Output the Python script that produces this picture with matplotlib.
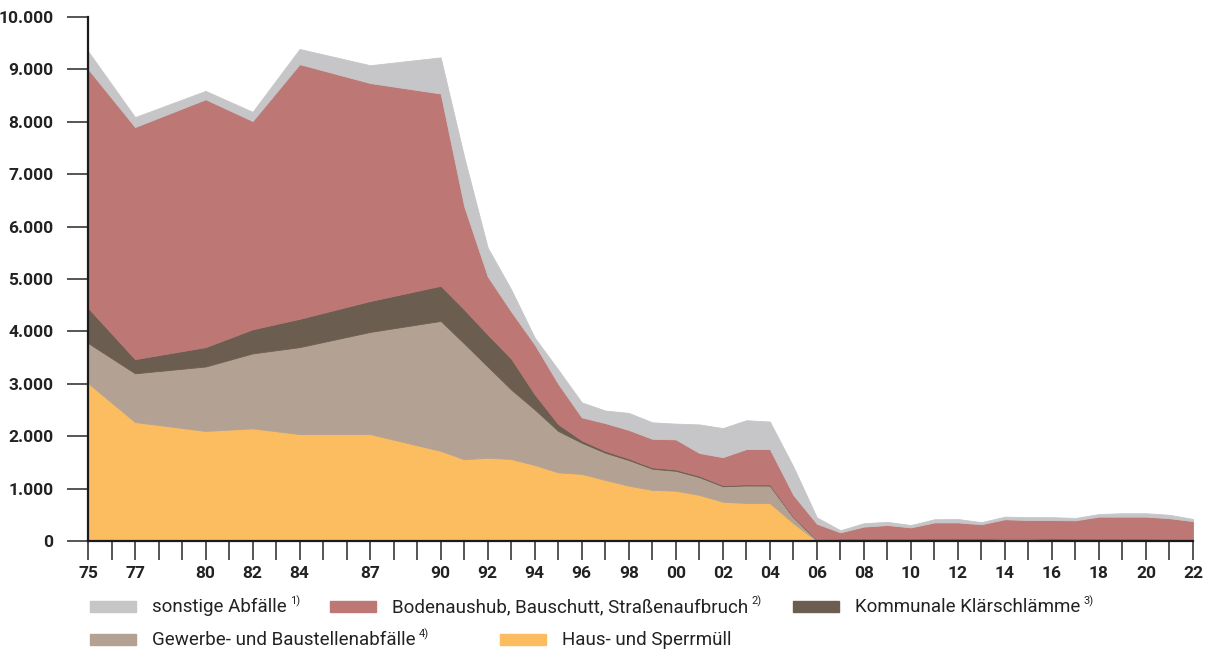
import numpy as np
import matplotlib.pyplot as plt

# Abfallaufkommen, in 1.000 t
years = [1975, 1977, 1980, 1982, 1984, 1987] + list(range(1990, 2023))

haus = [3015, 2270, 2100, 2150, 2040, 2040,
        1720, 1560, 1590, 1565, 1450, 1310, 1280, 1165, 1055, 975,
        960, 880, 750, 725, 725, 340, 0, 0, 0, 0,
        0, 0, 0, 0, 0, 0, 0, 0, 0, 0,
        0, 0, 0]
gewerbe = [765, 930, 1230, 1430, 1660, 1950,
           2480, 2210, 1740, 1325, 1060, 790, 595, 520, 490, 405,
           380, 340, 295, 335, 333, 110, 20, 40, 40, 40,
           40, 45, 45, 45, 50, 50, 45, 40, 40, 40,
           40, 35, 30]
klaerschlamm = [670, 270, 370, 460, 540, 590,
                670, 650, 610, 590, 290, 130, 45, 35, 30, 25,
                25, 25, 20, 20, 20, 10, 5, 5, 5, 5,
                5, 5, 5, 5, 5, 5, 5, 5, 5, 5,
                5, 5, 5]
boden = [4560, 4430, 4730, 3975, 4860, 4160,
         3670, 1970, 1110, 900, 950, 770, 440, 530, 545, 545,
         575, 435, 535, 675, 677, 420, 305, 120, 230, 260,
         215, 305, 305, 270, 360, 345, 350, 350, 420, 420,
         420, 395, 345]
sonstige = [340, 190, 160, 175, 290, 340,
            690, 940, 550, 420, 130, 270, 285, 240, 325, 315,
            300, 545, 555, 550, 525, 540, 120, 40, 65, 60,
            45, 60, 65, 40, 50, 55, 55, 45, 50, 65,
            65, 65, 40]

labels = ['Haus- und Sperrmüll', 'Gewerbe- und Baustellenabfälle',
          'Kommunale Klärschlämme', 'Bodenaushub, Bauschutt, Straßenaufbruch',
          'sonstige Abfälle']
colors = ['#fbbd5f', '#b3a293', '#6b5e50', '#bd7875', '#c6c6c8']

xtick_years = [1975, 1977, 1980, 1982, 1984, 1987, 1990] + list(range(1992, 2023, 2))

FONT = ['Liberation Sans Narrow', 'Roboto', 'DejaVu Sans']
plt.rcParams['font.family'] = FONT

fig = plt.figure(figsize=(12.11, 6.52), dpi=100)
ax = fig.add_axes([88 / 1211, 1 - 541 / 652, (1193 - 88) / 1211, (541 - 17) / 652])

series = [haus, gewerbe, klaerschlamm, boden, sonstige]
polys = ax.stackplot(years, *series, colors=colors, linewidth=0.6)
for p, c in zip(polys, colors):
    p.set_edgecolor(c)

ax.set_xlim(1975, 2022)
ax.set_ylim(0, 10000)
ax.spines[['top', 'right']].set_visible(False)
for s in ['left', 'bottom']:
    ax.spines[s].set_color('#1a1a1a')
    ax.spines[s].set_linewidth(1.6)

ax.set_yticks(np.arange(0, 10001, 1000))
ax.set_yticklabels([f'{v:,}'.replace(',', '.') for v in range(0, 10001, 1000)])
ax.tick_params(axis='y', length=15, width=1.4, color='#555555', pad=10,
               labelsize=12.5, labelcolor='#222222')

ax.set_xticks(range(1975, 2023), minor=True)
ax.set_xticks(xtick_years)
ax.set_xticklabels([f'{y % 100:02d}' for y in xtick_years])
ax.tick_params(axis='x', which='both', length=14, width=1.4, color='#555555')
ax.tick_params(axis='x', which='major', pad=4, labelsize=12.5, labelcolor='#222222')
for t in ax.get_yticklabels() + ax.get_xticklabels():
    t.set_fontweight('bold')

# legend, laid out by hand like the original
legend_items = [
    (4, '1)', 90, 607), (3, '2)', 330, 607), (2, '3)', 793, 607),
    (1, '4)', 90, 640), (0, None, 500, 640),
]
W, H = 1211, 652
fig.canvas.draw()
renderer = fig.canvas.get_renderer()
for idx, sup, x0, yc in legend_items:
    fig.patches.append(plt.Rectangle((x0 / W, 1 - (yc + 5) / H), 46 / W, 11 / H,
                                     transform=fig.transFigure, color=colors[idx]))
    t = fig.text((x0 + 62) / W, 1 - yc / H, labels[idx], fontsize=13.5,
                 va='center', ha='left', color='#222222')
    if sup:
        bb = t.get_window_extent(renderer)
        fig.text((bb.x1 + 3) / W, 1 - (yc - 6) / H, sup, fontsize=8,
                 va='center', ha='left', color='#222222')

fig.savefig('out.png', dpi=100)
